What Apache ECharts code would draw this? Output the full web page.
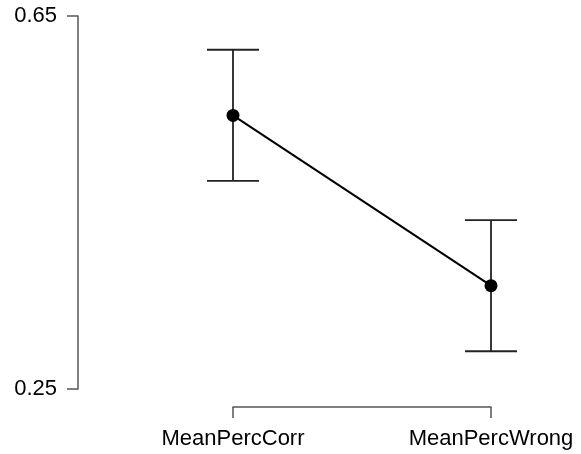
<!DOCTYPE html>
<html>
<head>
<meta charset="utf-8">
<script src="https://cdn.jsdelivr.net/npm/echarts@6/dist/echarts.min.js"></script>
<style>html,body{margin:0;padding:0;background:#fff}#c{width:581px;height:454px}</style>
</head>
<body>
<div id="c"></div>
<script>
var categories = ['MeanPercCorr', 'MeanPercWrong'];
var means = [0.5434, 0.3608];
var lower = [0.4731, 0.2905];
var upper = [0.6138, 0.4312];
var yTicks = [0.25, 0.65];

var chart = echarts.init(document.getElementById('c'));
var font = 'Liberation Sans, Arial, sans-serif';
var axisColor = '#555';
chart.setOption({
  animation: false,
  backgroundColor: '#fff',
  grid: { left: 233, right: 90, top: 16, bottom: 65, containLabel: false },
  xAxis: {
    type: 'category',
    data: categories,
    boundaryGap: false,
    offset: 18,
    axisLine: { lineStyle: { color: axisColor, width: 1.5 } },
    axisTick: { length: 11, lineStyle: { color: axisColor, width: 1.5 } },
    axisLabel: { margin: 21, fontSize: 22, color: '#000', fontFamily: font },
    splitLine: { show: false }
  },
  yAxis: {
    type: 'value',
    min: yTicks[0],
    max: yTicks[yTicks.length - 1],
    offset: 155,
    axisLine: { show: true, lineStyle: { color: axisColor, width: 1.5 } },
    axisTick: { show: true, length: 11, customValues: yTicks, lineStyle: { color: axisColor, width: 1.5 } },
    axisLabel: { margin: 21, fontSize: 22, color: '#000', fontFamily: font, customValues: yTicks,
      formatter: function (v) { return String(v); } },
    splitLine: { show: false }
  },
  series: [
    {
      type: 'custom',
      data: categories.map(function (c, i) { return [i, lower[i], upper[i]]; }),
      renderItem: function (params, api) {
        var x = api.value(0);
        var lo = api.coord([x, api.value(1)]);
        var hi = api.coord([x, api.value(2)]);
        var hw = 26;
        var st = { stroke: '#222', lineWidth: 1.8 };
        return {
          type: 'group',
          children: [
            { type: 'line', shape: { x1: lo[0], y1: lo[1], x2: hi[0], y2: hi[1] }, style: st },
            { type: 'line', shape: { x1: lo[0] - hw, y1: lo[1], x2: lo[0] + hw, y2: lo[1] }, style: st },
            { type: 'line', shape: { x1: hi[0] - hw, y1: hi[1], x2: hi[0] + hw, y2: hi[1] }, style: st }
          ]
        };
      },
      z: 1
    },
    {
      type: 'line',
      data: means,
      symbol: 'circle',
      symbolSize: 13,
      itemStyle: { color: '#000' },
      lineStyle: { color: '#000', width: 2 },
      z: 2
    }
  ]
});
</script>
</body>
</html>
